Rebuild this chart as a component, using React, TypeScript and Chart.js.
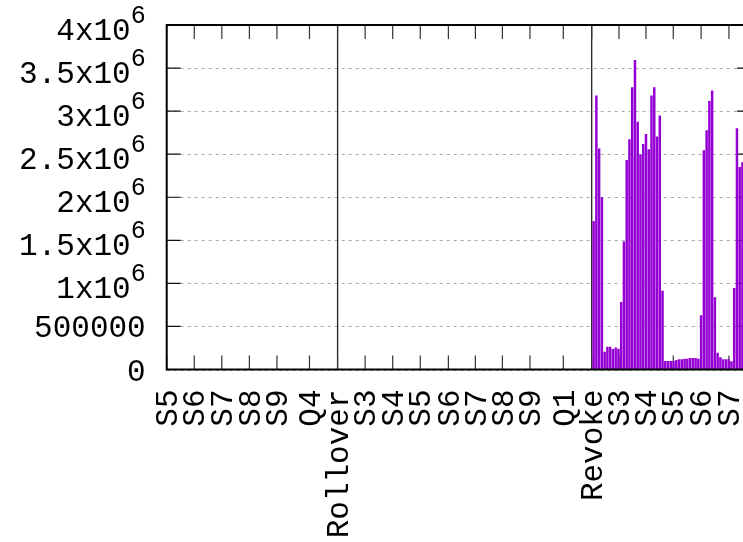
import React, { useEffect, useRef } from 'react';
import { Chart, registerables } from 'chart.js';

Chart.register(...registerables);

// x positions (time units) of the labelled ticks and their labels
const xTickValues = [0, 10, 20, 30, 40, 51.8, 62, 72, 82, 92, 102.2, 112, 121.8, 131.8, 143.9, 154.2, 164.1, 173.9, 183.8, 193.9, 204];
const xTickLabels = ['S5', 'S6', 'S7', 'S8', 'S9', 'Q4', 'Rollover', 'S3', 'S4', 'S5', 'S6', 'S7', 'S8', 'S9', 'Q1', 'Revoke', 'S3', 'S4', 'S5', 'S6', 'S7'];
const markerLabels = ['Rollover', 'Revoke'];
const yTickValues = [0, 500000, 1000000, 1500000, 2000000, 2500000, 3000000, 3500000, 4000000];
const xMin = 0;
const xMax = 212;
const yMax = 4000000;

// first bar position (time units); one bar per unit after that
const barStart = 154.9;
const barValues = [
  1725000, 3180000, 2565000, 2000000, 207000, 265000, 265000, 238000, 255000, 240000,
  784000, 1485000, 2433000, 2673000, 3277000, 3595000, 2878000, 2499000, 2619000, 2735000,
  2557000, 3180000, 3277000, 2704000, 2948000, 915000, 100000, 100000, 100000, 100000,
  110000, 118000, 118000, 126000, 126000, 134000, 134000, 134000, 126000, 630000,
  2546000, 2778000, 3118000, 3240000, 838000, 195000, 141000, 118000, 118000, 118000,
  95000, 947000, 2800000, 2350000, 2406000,
];

const FONT = "'Liberation Mono', 'DejaVu Sans Mono', monospace";
const FS = 31;

function yLabelParts(v: number): [string, string] {
  if (v === 0) return ['0', ''];
  if (v < 1000000) return [String(v), ''];
  return [`${v / 1000000}x10`, '6'];
}

const framePlugin = {
  id: 'gnuframe',
  beforeDatasetsDraw(chart: any) {
    const { ctx, chartArea: a, scales } = chart;
    const x = scales.x;
    const y = scales.y;
    ctx.save();
    // dotted horizontal grid
    ctx.strokeStyle = '#a8a8a8';
    ctx.lineWidth = 1;
    ctx.setLineDash([3, 4]);
    yTickValues.forEach((v) => {
      const py = Math.round(y.getPixelForValue(v)) + 0.5;
      ctx.beginPath();
      ctx.moveTo(a.left, py);
      ctx.lineTo(a.right, py);
      ctx.stroke();
    });
    ctx.setLineDash([]);
    // marker lines
    ctx.strokeStyle = '#222';
    ctx.lineWidth = 1.3;
    xTickLabels.forEach((lab, i) => {
      if (!markerLabels.includes(lab)) return;
      const px = x.getPixelForValue(xTickValues[i]);
      ctx.beginPath();
      ctx.moveTo(px, a.top);
      ctx.lineTo(px, a.bottom);
      ctx.stroke();
    });
    // inward ticks
    const tl = 14;
    ctx.strokeStyle = '#333';
    ctx.lineWidth = 1.2;
    xTickValues.forEach((v) => {
      const px = x.getPixelForValue(v);
      ctx.beginPath();
      ctx.moveTo(px, a.bottom);
      ctx.lineTo(px, a.bottom - tl);
      ctx.moveTo(px, a.top);
      ctx.lineTo(px, a.top + tl);
      ctx.stroke();
    });
    ctx.strokeStyle = '#111';
    yTickValues.forEach((v) => {
      const py = y.getPixelForValue(v);
      ctx.beginPath();
      ctx.moveTo(a.left, py);
      ctx.lineTo(a.left + tl, py);
      ctx.moveTo(a.right, py);
      ctx.lineTo(a.right - tl, py);
      ctx.stroke();
    });
    ctx.restore();
  },
  afterDatasetsDraw(chart: any) {
    const { ctx, chartArea: a, scales } = chart;
    const y = scales.y;
    ctx.save();
    ctx.strokeStyle = '#000';
    ctx.lineWidth = 2;
    ctx.strokeRect(a.left, a.top, a.right - a.left, a.bottom - a.top);
    // y labels with superscript exponent
    ctx.fillStyle = '#000';
    ctx.textBaseline = 'alphabetic';
    ctx.textAlign = 'right';
    const rightEdge = a.left - 22;
    yTickValues.forEach((v) => {
      const py = y.getPixelForValue(v);
      const [main, sup] = yLabelParts(v);
      if (sup) {
        ctx.font = `25px ${FONT}`;
        const w = ctx.measureText(sup).width;
        ctx.fillText(sup, rightEdge + 1, py - 2);
        ctx.font = `${FS}px ${FONT}`;
        ctx.fillText(main, rightEdge + 1 - w, py + 15);
      } else {
        ctx.font = `${FS}px ${FONT}`;
        ctx.fillText(main, rightEdge + 1, py + 11);
      }
    });
    ctx.restore();
  },
};

export default function App() {
  const ref = useRef<HTMLCanvasElement | null>(null);
  useEffect(() => {
    if (!ref.current) return;
    const chart = new Chart(ref.current, {
      type: 'bar',
      data: {
        datasets: [
          {
            data: barValues.map((v, i) => ({ x: barStart + i, y: v })),
            backgroundColor: '#9400d3',
            borderWidth: 0,
            barPercentage: 0.9,
            categoryPercentage: 1,
          },
        ],
      },
      options: {
        responsive: false,
        animation: false,
        events: [],
        layout: { padding: { left: 0, top: 25, right: 9, bottom: 0 } },
        plugins: { legend: { display: false }, tooltip: { enabled: false } },
        scales: {
          x: {
            type: 'linear',
            min: xMin,
            max: xMax,
            offset: false,
            grid: { display: false, drawTicks: false },
            border: { display: false },
            afterBuildTicks: (s: any) => {
              s.ticks = xTickValues.map((v) => ({ value: v }));
            },
            afterFit: (s: any) => {
              s.height = 172.5;
              s.paddingLeft = 0;
              s.paddingRight = 0;
            },
            ticks: {
              autoSkip: false,
              minRotation: 90,
              maxRotation: 90,
              padding: 20,
              labelOffset: 2,
              color: '#000',
              font: { family: FONT, size: FS },
              callback: (_v: any, i: number) => xTickLabels[i],
            },
          },
          y: {
            type: 'linear',
            min: 0,
            max: yMax,
            grid: { display: false, drawTicks: false },
            border: { display: false },
            afterBuildTicks: (s: any) => {
              s.ticks = yTickValues.map((v) => ({ value: v }));
            },
            afterFit: (s: any) => {
              s.width = 166.7;
              s.paddingTop = 0;
              s.paddingBottom = 0;
            },
            ticks: { display: false },
          },
        },
      },
      plugins: [framePlugin],
    });
    return () => chart.destroy();
  }, []);
  return (
    <div style={{ position: 'fixed', left: 0, top: 0, width: 743, height: 542, overflow: 'hidden', background: '#fff' }}>
      <canvas ref={ref} width={760} height={542} style={{ display: 'block' }} />
    </div>
  );
}
